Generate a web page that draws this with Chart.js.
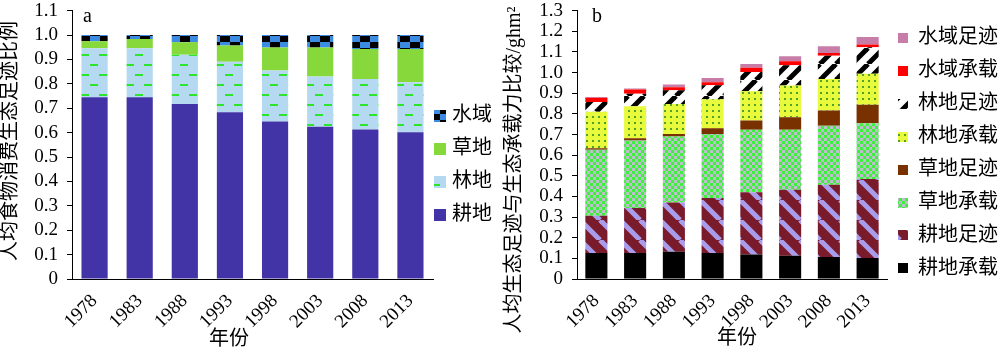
<!DOCTYPE html>
<html><head><meta charset="utf-8">
<script src="https://cdn.jsdelivr.net/npm/chart.js@4/dist/chart.umd.min.js"></script>
<style>
html,body{margin:0;padding:0;background:#fff;}
#wrap{position:relative;width:1000px;height:352px;overflow:hidden;background:#fff;}
.box{position:absolute;top:0;width:500px;height:352px;}
</style></head><body>
<div id="wrap">
<div class="box" style="left:0"><canvas id="ca" width="500" height="352"></canvas></div>
<div class="box" style="left:500px"><canvas id="cb" width="500" height="352"></canvas></div>
</div>
<script>
// ---------- data ----------
const years = ['1978','1983','1988','1993','1998','2003','2008','2013'];

// panel a: share of per-capita food-consumption footprint
const aCropland = [0.745, 0.745, 0.717, 0.684, 0.646, 0.624, 0.613, 0.602];
const aForest   = [0.201, 0.201, 0.202, 0.207, 0.209, 0.206, 0.207, 0.205];
const aGrass    = [0.029, 0.038, 0.052, 0.066, 0.094, 0.119, 0.123, 0.136];
const aWater    = [0.025, 0.016, 0.029, 0.043, 0.051, 0.051, 0.057, 0.057];
const aTicks    = [0, 0.1, 0.2, 0.3, 0.4, 0.5, 0.6, 0.7, 0.8, 0.9, 1.0, 1.1];

// panel b: per-capita footprint vs capacity (ghm2)
const bCropCap   = [0.126, 0.126, 0.132, 0.126, 0.119, 0.113, 0.106, 0.102];
const bCropFp    = [0.181, 0.218, 0.239, 0.266, 0.301, 0.319, 0.351, 0.382];
const bGrassCap  = [0.319, 0.327, 0.319, 0.311, 0.303, 0.291, 0.286, 0.271];
const bGrassFp   = [0.008, 0.011, 0.013, 0.028, 0.045, 0.061, 0.073, 0.089];
const bForestCap = [0.176, 0.155, 0.145, 0.140, 0.142, 0.153, 0.153, 0.151];
const bForestFp  = [0.048, 0.060, 0.067, 0.068, 0.093, 0.099, 0.113, 0.128];
const bWaterCap  = [0.020, 0.021, 0.014, 0.014, 0.020, 0.019, 0.013, 0.013];
const bWaterFp   = [0.004, 0.005, 0.013, 0.021, 0.019, 0.024, 0.033, 0.037];
const bTicks     = [0, 0.1, 0.2, 0.3, 0.4, 0.5, 0.6, 0.7, 0.8, 0.9, 1.0, 1.1, 1.2, 1.3];

// ---------- helpers ----------
const FONT = '"Liberation Serif", "Noto Sans CJK SC", serif';
function pat(ctx, w, h, draw){
  const c = document.createElement('canvas'); c.width = w; c.height = h;
  const g = c.getContext('2d'); draw(g, w, h);
  return ctx.createPattern(c, 'repeat');
}
function fmt(v){ return Math.abs(v) < 1e-9 ? '0' : v.toFixed(1); }

const deco = {
  id: 'deco',
  afterDraw(chart, args, o){
    const ctx = chart.ctx, ca = chart.chartArea;
    ctx.save();
    ctx.fillStyle = '#000';
    ctx.font = o.letterFont; ctx.textAlign = 'left'; ctx.textBaseline = 'alphabetic';
    ctx.fillText(o.letter, ca.left + o.letterDx, o.letterY);
    ctx.font = o.titleFont;
    ctx.save(); ctx.translate(o.yTitleX, o.yTitleY); ctx.rotate(-Math.PI/2);
    ctx.textAlign = 'center'; ctx.textBaseline = 'middle'; ctx.fillText(o.yTitle, 0, 0); ctx.restore();
    ctx.textAlign = 'center'; ctx.textBaseline = 'middle';
    ctx.fillText(o.xTitle, o.xTitleX, o.xTitleY);
    const ds = chart.data.datasets.slice().reverse();
    ds.forEach((d, i) => {
      const y = o.legTop + i * o.legGap;
      ctx.fillStyle = d.backgroundColor;
      ctx.fillRect(o.legX, Math.round(y - o.box/2), o.box, o.box);
      ctx.fillStyle = '#000'; ctx.font = o.legFont; ctx.textAlign = 'left'; ctx.textBaseline = 'middle';
      ctx.fillText(d.label, o.legX + o.textGap, y);
    });
    ctx.restore();
  }
};

function baseOptions(maxY, ticksArr, yWidth, barPct, padRight){
  return {
    responsive: false, animation: false,
    layout: { padding: { top: 10.7, right: padRight, left: 0, bottom: 0 } },
    plugins: { legend: { display: false }, tooltip: { enabled: false } },
    datasets: { bar: { categoryPercentage: 1.0, barPercentage: barPct, borderWidth: 0 } },
    scales: {
      x: {
        stacked: true,
        grid: { display: false },
        border: { display: true, color: '#000', width: 1 },
        ticks: { color: '#000', font: { family: FONT, size: 19 }, maxRotation: 45, minRotation: 45, padding: 3 },
        afterFit(s){ s.height = 73; s.paddingLeft = 0; s.paddingRight = 0; }
      },
      y: {
        stacked: true, min: 0, max: maxY,
        afterBuildTicks(s){ s.ticks = ticksArr.map(v => ({ value: v })); },
        grid: { display: true, drawOnChartArea: false, drawTicks: true, tickLength: 5, color: '#000' },
        border: { display: true, color: '#000', width: 1 },
        ticks: { color: '#000', font: { family: FONT, size: 19 }, padding: 9, autoSkip: false, callback: v => fmt(v) },
        afterFit(s){ s.width = yWidth; s.paddingTop = 0; s.paddingBottom = 0; }
      }
    }
  };
}

// ---------- chart a ----------
const ctxA = document.getElementById('ca').getContext('2d');
const forestA = pat(ctxA, 18, 20, (g,w,h)=>{
  g.fillStyle = '#B4D9F1'; g.fillRect(0,0,w,h);
  g.fillStyle = '#2EE52E'; g.fillRect(0,4,8,2); g.fillRect(9,14,8,2);
});
const waterA = pat(ctxA, 20, 12, (g,w,h)=>{
  g.fillStyle = '#3C8BE2'; g.fillRect(0,0,w,h);
  g.fillStyle = '#000'; g.fillRect(0,0,10,6); g.fillRect(10,6,10,6);
});
const optA = baseOptions(1.1, aTicks, 72, 0.58, 67);
optA.plugins.deco = {
  letter: 'a', letterFont: '20px ' + FONT, letterDx: 11, letterY: 22,
  yTitle: '人均食物消费生态足迹比例', yTitleX: 11, yTitleY: 141, titleFont: '20px ' + FONT,
  xTitle: '年份', xTitleX: 229, xTitleY: 340,
  legX: 434, box: 12, textGap: 18, legTop: 116, legGap: 33, legFont: '20px ' + FONT
};
new Chart(ctxA, {
  type: 'bar',
  data: { labels: years, datasets: [
    { label: '耕地', data: aCropland, backgroundColor: '#4234A6' },
    { label: '林地', data: aForest,   backgroundColor: forestA },
    { label: '草地', data: aGrass,    backgroundColor: '#86D83B' },
    { label: '水域', data: aWater,    backgroundColor: waterA }
  ]},
  options: optA,
  plugins: [deco]
});

// ---------- chart b ----------
const ctxB = document.getElementById('cb').getContext('2d');
const cropFpP = pat(ctxB, 20, 20, (g,w,h)=>{
  g.fillStyle = '#7A1B2C'; g.fillRect(0,0,w,h);
  g.strokeStyle = '#A89CEB'; g.lineWidth = 5;
  for (const k of [-20, 0, 20]) { g.beginPath(); g.moveTo(k, 0); g.lineTo(k + 20, 20); g.stroke(); }
});
const grassCapP = pat(ctxB, 6, 6, (g,w,h)=>{
  g.fillStyle = '#3CF03C'; g.fillRect(0,0,w,h);
  g.fillStyle = '#BDBFCC'; g.fillRect(0,0,3,3); g.fillRect(3,3,3,3);
});
const forestCapP = pat(ctxB, 6, 6, (g,w,h)=>{
  g.fillStyle = '#E8FA3C'; g.fillRect(0,0,w,h);
  g.fillStyle = '#55A02A'; g.fillRect(2,2,2,2);
});
const forestFpP = pat(ctxB, 16, 16, (g,w,h)=>{
  g.fillStyle = '#FFFFFF'; g.fillRect(0,0,w,h);
  g.strokeStyle = '#000'; g.lineWidth = 5;
  for (const k of [-16, 0, 16]) { g.beginPath(); g.moveTo(k, 16); g.lineTo(k + 16, 0); g.stroke(); }
});
const optB = baseOptions(1.3, bTicks, 77, 0.57, 113);
optB.plugins.deco = {
  letter: 'b', letterFont: '20px ' + FONT, letterDx: 15, letterY: 22,
  yTitle: '人均生态足迹与生态承载力比较/ghm²', yTitleX: 15, yTitleY: 170, titleFont: '20px ' + FONT,
  xTitle: '年份', xTitleX: 237, xTitleY: 339,
  legX: 398, box: 10, textGap: 20, legTop: 38, legGap: 32.9, legFont: '20px ' + FONT
};
new Chart(ctxB, {
  type: 'bar',
  data: { labels: years, datasets: [
    { label: '耕地承载', data: bCropCap,   backgroundColor: '#000000' },
    { label: '耕地足迹', data: bCropFp,    backgroundColor: cropFpP },
    { label: '草地承载', data: bGrassCap,  backgroundColor: grassCapP },
    { label: '草地足迹', data: bGrassFp,   backgroundColor: '#7A3100' },
    { label: '林地承载', data: bForestCap, backgroundColor: forestCapP },
    { label: '林地足迹', data: bForestFp,  backgroundColor: forestFpP },
    { label: '水域承载', data: bWaterCap,  backgroundColor: '#FF0000' },
    { label: '水域足迹', data: bWaterFp,   backgroundColor: '#C87DA8' }
  ]},
  options: optB,
  plugins: [deco]
});
</script>
</body></html>
